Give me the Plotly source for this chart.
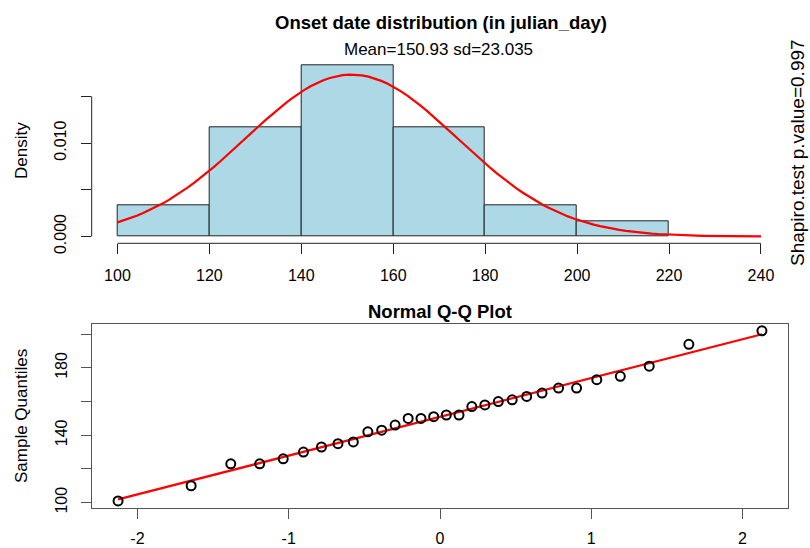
import numpy as np
import plotly.graph_objects as go
from statistics import NormalDist

# ---------------- data ----------------
onset_day = [101, 110, 123, 123, 126, 130, 133, 135, 136, 142, 143, 146, 150, 150, 151,
             152, 152, 157, 158, 160, 161, 163, 165, 168, 168, 173, 175, 181, 194, 202]
bin_edges = [100, 120, 140, 160, 180, 200, 220]
top_xticks = [100, 120, 140, 160, 180, 200, 220, 240]
top_yticks = [0.0, 0.005, 0.010, 0.015]
top_yticktext = ["0.000", "", "0.010", ""]
mean_val = 150.93
sd_val = 23.035
shapiro_p = 0.997
qq_xticks = [-2, -1, 0, 1, 2]
qq_xticktext = ["-2", "-1", "0", "1", "2"]
qq_yticks = [100, 120, 140, 160, 180, 200]
qq_yticktext = ["100", "", "140", "", "180", ""]

title_main = "Onset date distribution (in julian_day)"
subtitle = "Mean=%.2f sd=%.3f" % (mean_val, sd_val)
side_text = "Shapiro.test p.value=%.3f" % shapiro_p

FONT = "Liberation Sans, Arial, Helvetica, sans-serif"
W, H = 810, 548

n = len(onset_day)
vals = np.array(sorted(onset_day), dtype=float)
counts = []
for i in range(len(bin_edges) - 1):
    a, b = bin_edges[i], bin_edges[i + 1]
    if i == 0:
        c = np.sum((vals >= a) & (vals <= b))
    else:
        c = np.sum((vals > a) & (vals <= b))
    counts.append(int(c))
widths = [bin_edges[i + 1] - bin_edges[i] for i in range(len(bin_edges) - 1)]
mids = [(bin_edges[i] + bin_edges[i + 1]) / 2 for i in range(len(bin_edges) - 1)]
dens = [c / (n * w) for c, w in zip(counts, widths)]

nd = NormalDist(mean_val, sd_val)
cx = np.linspace(100, 240, 101)
cy = [nd.pdf(v) for v in cx]

theo = [NormalDist().inv_cdf((i + 0.5) / n) for i in range(n)]
line_x = [theo[0], theo[-1]]
line_y = [mean_val + sd_val * v for v in line_x]


def ext(lo, hi):
    d = (hi - lo) * 0.04
    return [lo - d, hi + d]


def px_x(p):
    return p / W


def px_y(p):
    return (H - p) / H


fig = go.Figure()
fig.add_trace(go.Bar(x=mids, y=dens, width=widths,
                     marker=dict(color="#ADD8E6", line=dict(color="#222222", width=1)),
                     xaxis="x", yaxis="y", showlegend=False, hoverinfo="skip"))
fig.add_trace(go.Scatter(x=cx, y=cy, mode="lines", line=dict(color="#FF0000", width=2.2),
                         xaxis="x", yaxis="y", showlegend=False, hoverinfo="skip"))
fig.add_trace(go.Scatter(x=line_x, y=line_y, mode="lines", line=dict(color="#FF0000", width=2.2),
                         xaxis="x2", yaxis="y2", showlegend=False, hoverinfo="skip"))
fig.add_trace(go.Scatter(x=theo, y=vals, mode="markers",
                         marker=dict(symbol="circle-open", size=9, color="black",
                                     line=dict(color="black", width=2)),
                         xaxis="x2", yaxis="y2", showlegend=False, hoverinfo="skip"))

tickfont = dict(family=FONT, size=16, color="black")

fig.update_layout(
    width=W, height=H,
    margin=dict(l=0, r=0, t=0, b=0, autoexpand=False),
    paper_bgcolor="white", plot_bgcolor="white",
    bargap=0, showlegend=False,
    xaxis=dict(domain=[px_x(91.7), px_x(786.7)], range=[94.4, 245.6],
               tickvals=top_xticks, ticks="outside", ticklen=10, tickcolor="#222",
               tickwidth=1, showline=False, showgrid=False, zeroline=False,
               tickfont=tickfont, anchor="y", ticklabelstandoff=7, automargin=False),
    yaxis=dict(domain=[px_y(243.3), px_y(58.3)], range=ext(0, max(dens)),
               tickvals=top_yticks, ticktext=top_yticktext, ticks="outside", ticklen=10,
               tickcolor="#222", tickwidth=1, showline=False, showgrid=False,
               zeroline=False, tickfont=tickfont, tickangle=-90, anchor="x",
               ticklabelstandoff=8, automargin=False),
    xaxis2=dict(domain=[px_x(92.3), px_x(787.7)], range=ext(theo[0], theo[-1]),
                tickvals=qq_xticks, ticktext=qq_xticktext, ticks="outside", ticklen=10,
                tickcolor="#555", tickwidth=1.2, showline=True, mirror=True,
                linecolor="#555", linewidth=1.3, showgrid=False, zeroline=False,
                tickfont=tickfont, anchor="y2", ticklabelstandoff=6, automargin=False),
    yaxis2=dict(domain=[px_y(507.7), px_y(324)], range=ext(vals.min(), vals.max()),
                tickvals=qq_yticks, ticktext=qq_yticktext, ticks="outside", ticklen=10,
                tickcolor="#555", tickwidth=1.2, showline=True, mirror=True,
                linecolor="#555", linewidth=1.3, showgrid=False, zeroline=False,
                tickfont=tickfont, tickangle=-90, anchor="x2", ticklabelstandoff=8,
                automargin=False),
)

# partial axis lines, like R's axis()
fig.add_shape(type="line", xref="x", yref="y domain", x0=top_xticks[0], x1=top_xticks[-1],
              y0=0, y1=0, line=dict(color="#222", width=1))
fig.add_shape(type="line", xref="x domain", yref="y", x0=0, x1=0,
              y0=top_yticks[0], y1=top_yticks[-1], line=dict(color="#222", width=1))

ann = [
    dict(text="<b>%s</b>" % title_main, x=px_x(441), y=px_y(22),
         font=dict(family=FONT, size=18.5, color="black")),
    dict(text=subtitle, x=px_x(438), y=px_y(49.5),
         font=dict(family=FONT, size=17, color="black")),
    dict(text="Density", x=px_x(21), y=px_y(151), textangle=-90,
         font=dict(family=FONT, size=17, color="black")),
    dict(text=side_text, x=px_x(798), y=px_y(153), textangle=-90,
         font=dict(family=FONT, size=19, color="black")),
    dict(text="<b>Normal Q-Q Plot</b>", x=px_x(440), y=px_y(311),
         font=dict(family=FONT, size=18.5, color="black")),
    dict(text="Sample Quantiles", x=px_x(21), y=px_y(416), textangle=-90,
         font=dict(family=FONT, size=17, color="black")),
]
for a in ann:
    a.update(xref="paper", yref="paper", xanchor="center", yanchor="middle",
             showarrow=False)
    fig.add_annotation(**a)

fig.write_html("out.html", config={"displayModeBar": False},
               post_script="document.body.style.margin='0px';"
                           "document.body.style.overflow='hidden';")
